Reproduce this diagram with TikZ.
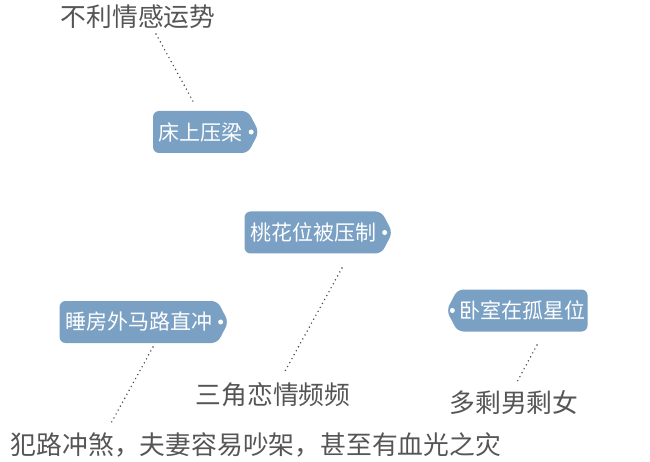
\documentclass[tikz,border=0pt]{standalone}
\usepackage{fontspec}
\setmainfont{Noto Sans CJK SC}
\usepackage{tikz}
\usepackage{xcolor}
\usetikzlibrary{shapes.symbols,calc}
\definecolor{tagblue}{RGB}{122,160,196}
\definecolor{notegray}{RGB}{85,85,85}
\definecolor{linegray}{RGB}{70,70,70}
\tikzset{
    tag-box/.style = {shape=signal, fill=tagblue, text=white, font=\fontsize{21}{21}\selectfont, rounded corners=6pt, inner xsep=5.5pt, inner ysep=0pt, minimum height=42pt, signal pointer angle=125},
    tag-east/.style = {tag-box, signal to=east},
    tag-west/.style = {tag-box, signal to=west, inner xsep=2pt},
    note-text/.style = {text=notegray, font=\fontsize{25.8}{25.8}\selectfont, inner sep=0pt},
    dot-link/.style = {draw=linegray, line width=1.6pt, line cap=round, dash pattern=on 0pt off 4.5pt},
}

\begin{document}
\begin{tikzpicture}[x=1pt,y=-1pt]
\useasboundingbox (0,0) rectangle (650,462);

% tags
\node[tag-east] (bed) at (200.5,132) {床上压梁};
\node[tag-east] (peach) at (313,232.5) {桃花位被压制};
\node[tag-east] (road) at (138.5,322) {睡房外马路直冲};
\node[tag-west] (lonely) at (522.5,310.5) {卧室在孤星位};
\fill[white] ($(bed.east)+(-8,0)$) circle (2.5pt);
\fill[white] ($(peach.east)+(-8,0)$) circle (2.5pt);
\fill[white] ($(road.east)+(-8,0)$) circle (2.5pt);
\fill[white] ($(lonely.west)+(6,0)$) circle (2.5pt);

% notes
\node[note-text] (luck) at (138,17) {不利情感运势};
\node[note-text] (triangle) at (273,395) {三角恋情频频};
\node[note-text] (single) at (514,403) {多剩男剩女};
\node[note-text] (clash) at (256,445) {犯路冲煞，夫妻容易吵架，甚至有血光之灾};

% links
\draw[dot-link] ($(luck)+(18,17)$) -- ($(bed)+(-6.5,-29)$);
\draw[dot-link] ($(peach)+(29,35.5)$) -- ($(triangle)+(11,-22)$);
\draw[dot-link] ($(road)+(14.5,25)$) -- ($(clash)+(-146,-20)$);
\draw[dot-link] ($(lonely)+(14.5,34.5)$) -- ($(single)+(3,-21)$);
\end{tikzpicture}
\end{document}
